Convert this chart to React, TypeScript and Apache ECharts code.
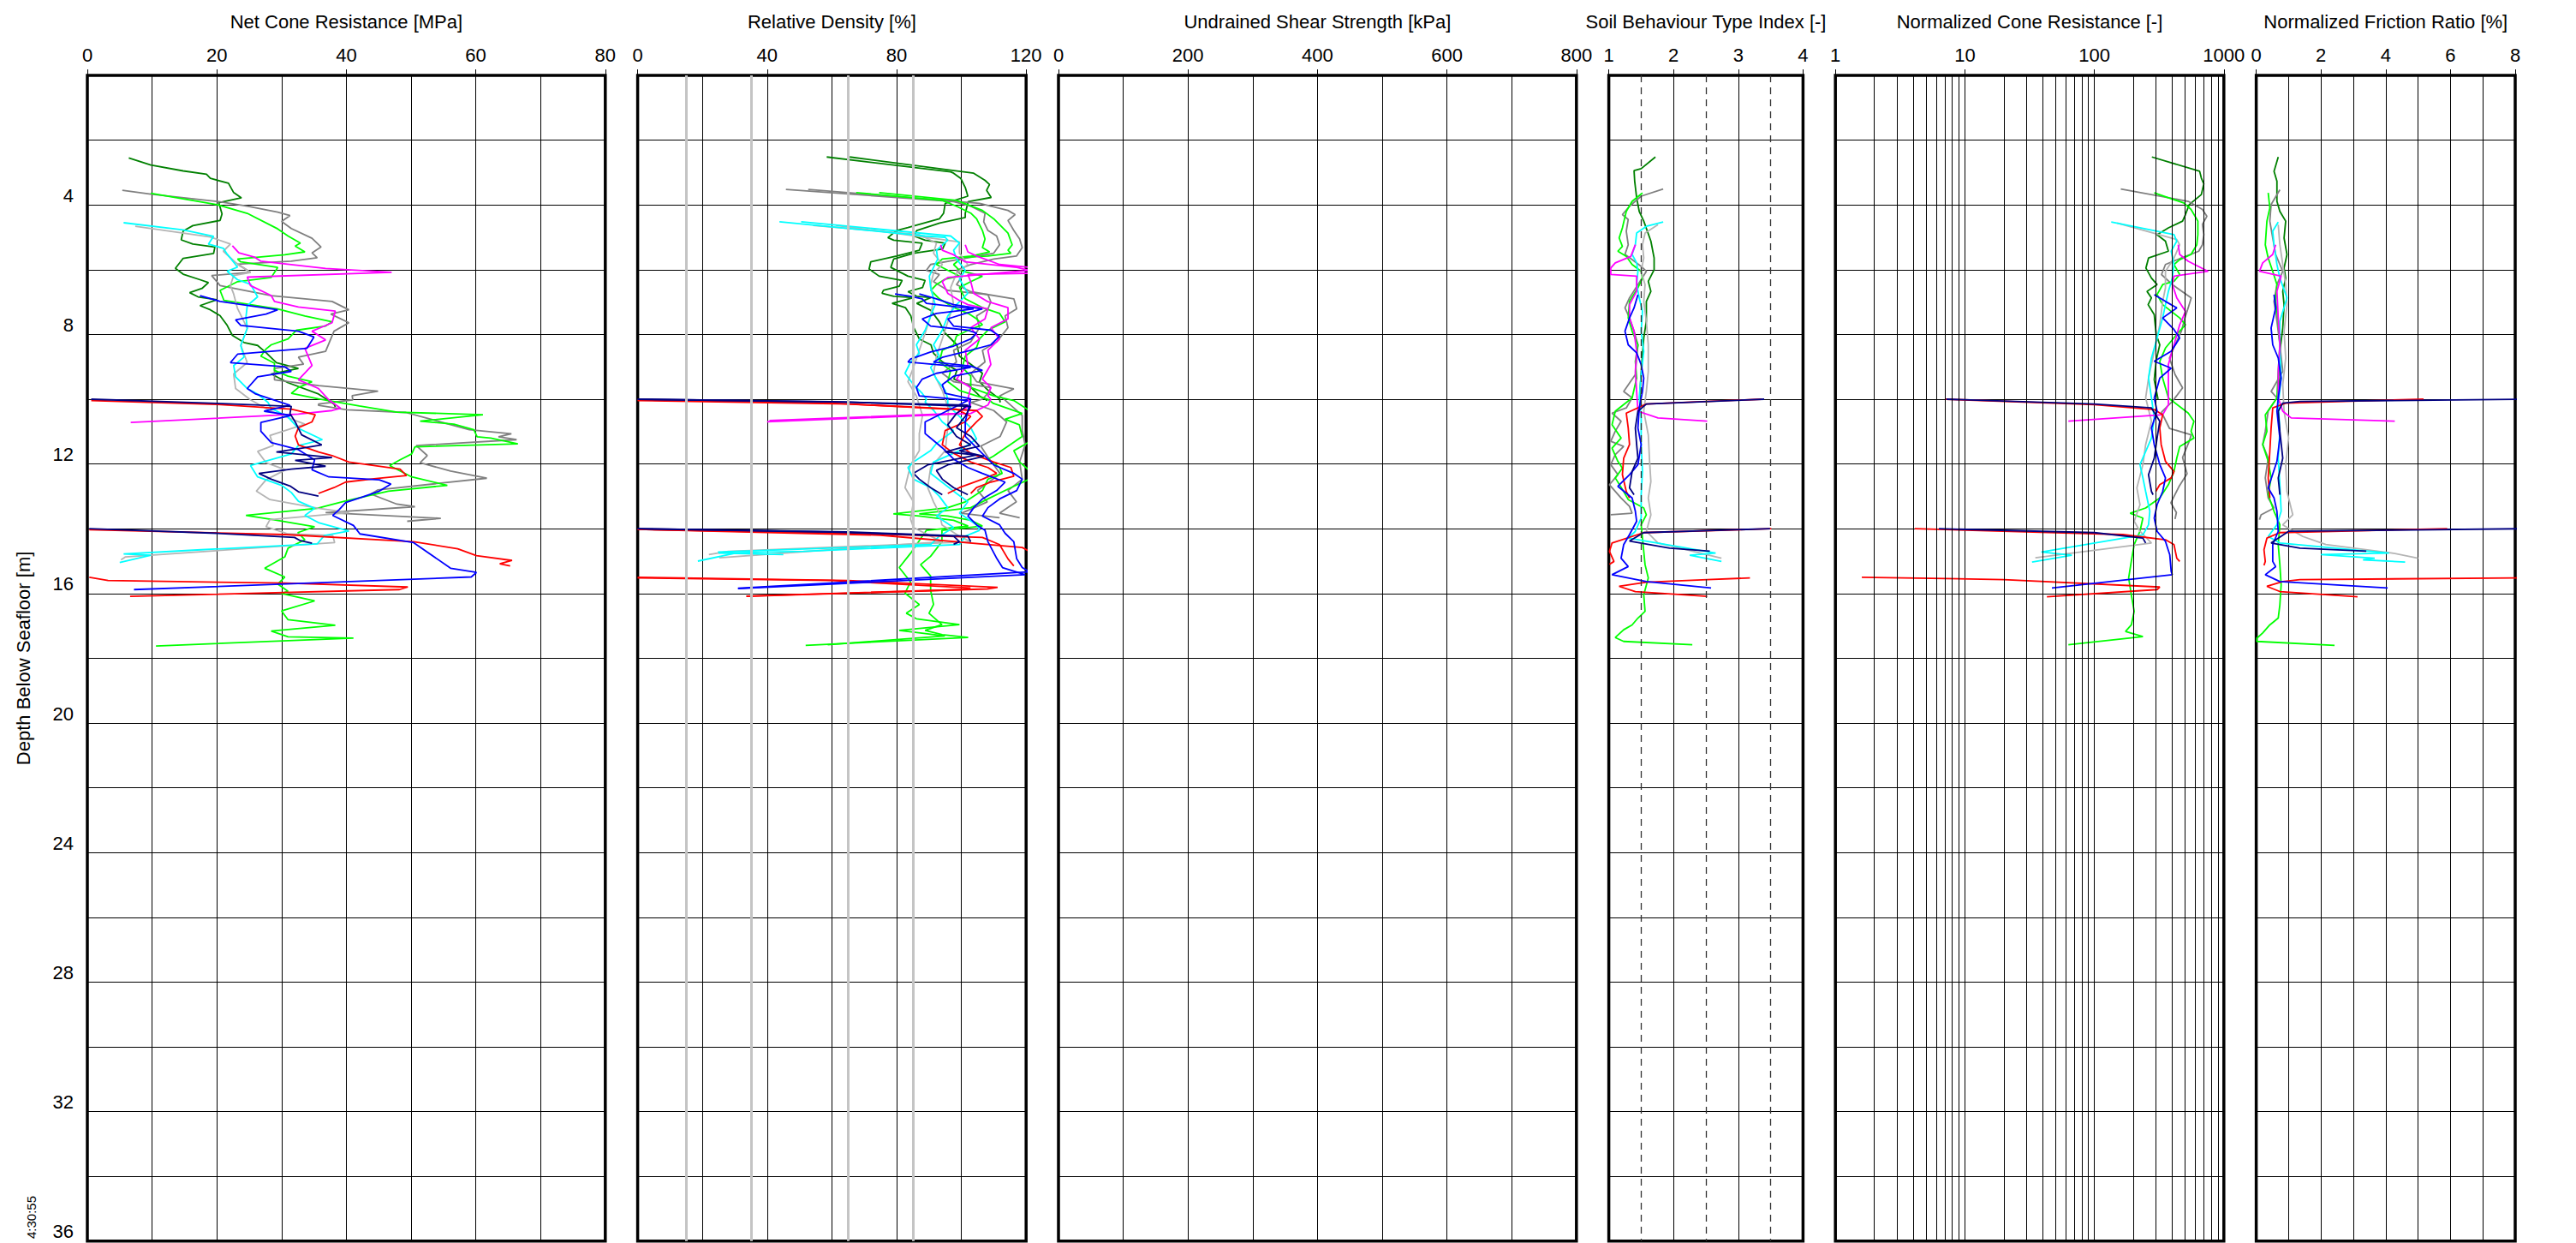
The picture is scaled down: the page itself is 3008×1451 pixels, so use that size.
import React, { useEffect, useRef } from "react";
import * as echarts from "echarts";

// ---------------- Net Cone Resistance [MPa] : [value, depth] ----------------
const qnDarkGreen = [[6.4,2.55],[9.8,2.77],[14.8,2.95],[18.4,3.05],[19,3.18],[21.8,3.33],[22.6,3.62],[23.8,3.78],[20.3,3.93],[20.8,4.28],[20.5,4.48],[16.3,4.64],[14.8,4.81],[14.5,5.08],[16.3,5.21],[19.7,5.3],[19.5,5.5],[14.8,5.65],[13.6,5.96],[14.8,6.14],[17.4,6.31],[18.7,6.4],[17.7,6.58],[15.8,6.71],[17.1,6.84],[20,6.93],[17.4,7.11],[19,7.24],[20.5,7.42],[21.6,7.72],[22.4,8.03],[24.2,8.25],[26.3,8.34],[27.6,8.56],[29.2,8.87],[32.6,9.05],[28.4,9.22],[31,9.49],[35.7,9.84],[38.1,10.15],[38.3,10.24]];
const qnGray = [[5.4,3.55],[9.8,3.67],[20,3.89],[24.7,4.04],[29.4,4.22],[31.3,4.33],[30,4.51],[31.5,4.73],[34.7,5.03],[36.1,5.3],[34.7,5.48],[35.5,5.63],[31.5,5.74],[23.2,5.83],[25.2,6.08],[19.2,6.18],[20.5,6.49],[28.4,6.8],[37.8,6.98],[40.4,7.24],[37.6,7.37],[40.4,7.64],[38.1,7.9],[36.8,8.52],[32.6,8.7],[33.4,8.92],[28.9,9.05],[28.9,9.4],[35.7,9.58],[44.9,9.75],[40.9,9.89],[41,10.02],[35.7,10.15],[35.7,10.19],[40.1,10.33],[49.2,10.41],[59,10.94],[65.5,11.07],[63.5,11.16],[66.3,11.25],[50.8,11.43],[52.5,11.74],[51.4,11.96],[56.1,12.22],[61.7,12.44],[44.9,12.8],[43.8,12.93],[47.8,13.24],[50.6,13.32],[36.8,13.5],[54.6,13.68],[49.4,13.77]];
const qnLime = [[9.8,3.64],[20,3.99],[24.7,4.26],[29.4,4.74],[31,4.96],[32.9,5.18],[32.1,5.27],[33.6,5.45],[30.5,5.54],[23.2,5.67],[23.7,5.76],[29.4,5.93],[28.4,6.24],[23.2,6.37],[20.5,6.64],[21.1,6.95],[25.2,7.08],[29.4,7.21],[33.6,7.43],[37.8,7.61],[36.8,7.74],[32.3,7.87],[31,8.14],[28.4,8.32],[27.6,8.45],[26.8,8.67],[28.9,8.89],[28.9,9.11],[31,9.29],[34.7,9.46],[32.6,9.64],[31.5,9.82],[35.7,9.99],[42,10.21],[47.8,10.4],[61.1,10.48],[51.4,10.68],[56.6,10.77],[59.7,10.94],[60.2,11.16],[62.3,11.2],[66.5,11.38],[50.6,11.47],[50.1,11.69],[48.3,11.87],[46.7,12.05],[50.1,12.4],[55.6,12.66],[46.5,12.84],[39.7,13.15],[35.5,13.37],[24.5,13.59],[28.7,13.72],[35.1,13.94],[32.5,14.12],[33.6,14.34],[31,14.6],[30.5,14.87],[27.4,15.22],[30.5,15.49],[29.4,15.71],[31,15.93],[30,16],[35.1,16.23],[30,16.54],[31,16.81],[38.3,16.98],[28.4,17.16],[31,17.34],[41.1,17.38],[10.6,17.62]];
const qnCyan = [[5.6,4.55],[14.8,4.77],[19.5,4.97],[18.7,5.21],[21,5.34],[21.6,5.52],[23.2,5.92],[21.6,6.05],[23.2,6.31],[25.2,6.45],[26.3,6.84],[24.7,7.11],[24.5,7.46],[24.7,7.81],[23.7,8.34],[24.2,8.7],[22.6,8.96],[22.9,9.31],[24.7,9.67],[26.3,9.84],[27.9,10.1],[28.4,10.28],[31,10.55],[32.6,10.9],[36.3,11.25],[32.6,11.43],[31.5,11.69],[25.2,12.05],[26.3,12.4],[30,12.66],[31.5,12.88],[32.6,13.15],[35.1,13.37],[33.6,13.59],[35.7,13.81],[40.4,14.07],[36.6,14.21],[35.5,14.47],[17.6,14.65],[5.6,14.78],[9.8,14.82],[5,15.04]];
const qnSilver = [[7.4,4.66],[19,4.99],[22.1,5.21],[21,5.43],[22.9,5.78],[25.2,6.09],[22.6,6.18],[22.1,6.49],[22.6,6.75],[23.2,7.2],[24.7,7.81],[23.7,8.34],[24.7,8.87],[22.6,9.22],[22.9,9.67],[25.2,10.02],[28.4,10.37],[33.6,10.77],[28.2,11.12],[28.7,11.43],[26.3,11.61],[27.6,11.96],[30.6,12.18],[27.6,12.49],[26.1,12.84],[28.2,13.1],[35.7,13.37],[40.4,13.5],[28.2,13.72],[27.6,13.94],[31,14.16],[37.9,14.21],[38.2,14.43],[28.4,14.56],[5.9,14.87],[5.2,14.96]];
const qnMagenta = [[22.4,5.26],[23.4,5.48],[25.8,5.61],[26.8,5.74],[36.8,5.96],[47,6.08],[24.7,6.23],[25.2,6.49],[28.4,6.8],[28.9,6.98],[32.6,7.15],[38.3,7.28],[37.8,7.64],[34.7,7.9],[36.8,8.17],[33.6,8.43],[34.7,8.96],[32.6,9.4],[35.7,9.67],[37.3,10.02],[39.1,10.28],[37.8,10.35],[32.6,10.46],[6.7,10.72]];
const qnBlue = [[17.4,6.8],[20.5,6.98],[29.4,7.24],[27.6,7.37],[22.9,7.55],[23.7,7.72],[32.6,7.9],[35,8.08],[33.9,8.43],[23.2,8.61],[22.1,8.87],[30.5,9],[31.5,9.14],[26.3,9.31],[24.7,9.67],[26,9.84],[31.3,10.19],[27.3,10.37],[31.5,10.5],[26.8,10.72],[26.8,10.99],[28.4,11.34],[32.6,11.56],[35.1,11.87],[34.7,12.18],[37.3,12.4],[45.1,12.49],[46.9,12.62],[45.1,12.84],[42.5,13.02],[39.9,13.19],[38.9,13.41],[37.9,13.59],[41.1,13.9],[42.1,14.16],[50.4,14.43],[56.1,15.22],[60.1,15.35],[59.3,15.49],[7.2,15.88]];
const qnNavy1 = [[0.6,10],[20,10.13],[31.5,10.22],[31.3,10.44],[32.1,10.7],[33.1,11.1],[36.2,11.41],[33.6,11.5],[29.2,11.63],[37.8,11.8],[32.1,11.89],[36.8,12.07],[31.5,12.16],[26.5,12.29],[28.4,12.47],[31.3,12.68],[32.6,12.86],[35.7,12.99]];
const qnNavy2 = [[0.3,14],[20,14.14],[32,14.27],[32.8,14.36],[34.7,14.45]];
const qnRed1 = [[0.6,10.04],[20,10.16],[31.5,10.31],[35.2,10.48],[34.7,10.7],[32.6,10.88],[32.1,11.14],[32.6,11.41],[35.7,11.63],[37.8,11.74],[40.4,11.94],[48.3,12.16],[49.3,12.36],[44.6,12.45],[39.9,12.56],[38.1,12.73],[35.7,12.91]];
const qnRed2 = [[0.3,14.03],[30.5,14.18],[50.4,14.4],[57.2,14.62],[60.1,14.83],[65.6,14.98],[63.7,15.08],[65.3,15.15]];
const qnRed3 = [[0.3,15.5],[3.2,15.6],[30.5,15.68],[49.5,15.8],[48.2,15.88],[6.6,16.09]];

// ---------------- Relative Density [%] (two correlations per CPT) ----------------
const drDarkGreenA = [[58.4,2.52],[96.7,2.98],[97.6,3.02],[99.8,3.18],[101.2,3.46],[102,3.73],[95,3.95],[94.5,4.26],[93.2,4.43],[83.5,4.7],[80,4.79],[77.3,5.01],[79.1,5.09],[87.9,5.18],[87,5.4],[80,5.58],[72,5.76],[71.5,5.98],[74.6,6.2],[81.7,6.33],[80.8,6.51],[75.9,6.64],[75.5,6.73],[79.1,6.82],[85.3,6.86],[78.6,7.04],[82.7,7.17],[84.4,7.43],[85.3,7.79],[87,8.14],[90.6,8.32],[91.4,8.58],[94.2,8.85],[98.6,9.11],[97.7,9.38],[102.1,9.55],[105.6,9.9],[107.4,10],[108,10.05]];
const drDarkGreenB = [[65.5,2.52],[103.8,3.02],[107.3,3.24],[108.7,3.37],[107.8,3.55],[109.2,3.77],[102.1,3.9],[101.2,4.26],[101.2,4.39],[93.3,4.56],[86.2,4.79],[85.3,4.96],[88.8,5.09],[95,5.18],[94.2,5.36],[85.3,5.49],[79.1,5.67],[78.2,5.93],[83.5,6.2],[88.8,6.33],[88,6.55],[83.5,6.68],[86.2,6.82],[90.6,6.86],[86.2,7.04],[90.6,7.26],[93.2,7.61],[95,7.96],[98.6,8.32],[99.4,8.67],[103,8.93],[106.5,9.2],[105.6,9.46],[108.3,9.73],[111.8,9.99],[112,10.1]];
const drGrayA = [[45.8,3.52],[97.6,3.9],[102.9,4.04],[107.3,4.26],[106.9,4.52],[108.2,4.79],[110.9,4.96],[111.8,5.23],[110,5.49],[102.9,5.62],[97.6,5.71],[90.5,5.84],[89.2,6.02],[93.2,6.15],[91.4,6.37],[95.8,6.64],[108.2,6.77],[109.1,6.99],[108.2,7.21],[104.7,7.43],[105.6,7.79],[102.9,8.23],[97.6,8.49],[98.5,8.85],[94.1,9.2],[97.6,9.46],[109.1,9.64],[108.2,9.82],[106.5,10],[102.9,10.1],[110,10.35],[114,10.7],[112,11.15],[106,11.45],[108,11.76],[110,12.03],[112,12.3],[105,12.82],[108,13.17],[104,13.35],[100,13.52],[111.8,13.66]];
const drGrayB = [[52.7,3.52],[105.6,3.95],[114.4,4.17],[116.6,4.3],[114.4,4.48],[116.2,4.79],[118,5.05],[118.8,5.32],[117,5.58],[110,5.67],[102.9,5.84],[98.5,6.02],[100.3,6.2],[98.5,6.46],[102.9,6.68],[116.2,6.9],[117.1,7.21],[113.5,7.43],[114.4,7.79],[110.9,8.23],[106.5,8.49],[107.3,8.85],[102.9,9.2],[104.7,9.46],[116.2,9.68],[111.8,9.9],[113.5,10.03],[118.8,10.5],[118.8,10.97],[119.7,11.41],[118,11.94],[118.8,12.47],[114.4,12.82],[117,13.17],[111.8,13.52],[118,13.66]];
const drLimeA = [[67.5,3.62],[94.1,3.86],[98.5,4.04],[103,4.26],[104.7,4.43],[106.5,4.79],[107.3,5.05],[106.5,5.32],[108.7,5.45],[103,5.58],[94.1,5.67],[92.3,5.84],[95.8,6.02],[99.4,6.2],[95,6.29],[92.3,6.46],[90.6,6.64],[93.2,6.9],[97.6,7.17],[102.1,7.35],[104.7,7.52],[106.5,7.7],[102.1,7.87],[98.5,8.05],[97.6,8.32],[94.1,8.49],[93.2,8.85],[96.7,9.11],[95.8,9.46],[99.4,9.73],[104.7,9.9],[108.2,10],[109.9,10.13],[118.8,10.44],[113.5,10.62],[117.9,10.79],[118.8,11.15],[109.9,11.76],[108.2,11.85],[111.8,12.11],[112.6,12.29],[108.2,12.47],[106.5,12.82],[101.2,13.17],[95.8,13.35],[79,13.54],[87,13.61],[97.6,13.74],[102.1,13.92],[89.2,14.05],[84.3,14.76],[80.8,15.2],[84.3,15.64],[82.6,15.99],[87,16.34],[83,16.61],[86.1,16.78],[99.4,16.96],[80.8,17.14],[94.9,17.31],[58.7,17.58]];
const drLimeB = [[74.6,3.62],[98.5,3.86],[106.5,4.17],[110,4.43],[112.7,4.7],[114.4,4.87],[115.7,5.23],[114.4,5.4],[115.3,5.49],[108.2,5.58],[100.3,5.62],[97.6,5.84],[99.4,6.02],[106.5,6.2],[102.9,6.37],[99.4,6.55],[101.2,6.9],[106.5,7.17],[111.8,7.35],[113.5,7.61],[108.2,7.87],[105.6,8.14],[104.7,8.4],[101.2,8.67],[100.3,9.02],[102.9,9.29],[102.9,9.64],[110,9.9],[116.2,10.04],[121,10.35],[121,11.32],[116.2,11.59],[118,11.94],[121,12.2],[121,12.47],[115.3,12.73],[108.2,13.08],[102.9,13.35],[87,13.54],[95.8,13.61],[102.9,13.74],[106.5,13.92],[94,14.05],[94,14.4],[90.5,14.85],[87.4,15.11],[90.5,15.46],[90.5,15.9],[91.4,16.34],[90,16.61],[94,16.96],[88.8,17.14],[94.1,17.27],[102.1,17.36],[51.9,17.6]];
const drCyanA = [[43.8,4.52],[88.8,4.96],[95,5],[95.8,5.09],[92.3,5.4],[92.7,5.67],[91.4,5.93],[90.1,6.2],[90.5,6.55],[91.9,7.08],[90.5,7.43],[88.8,7.87],[86.1,8.32],[87,8.58],[84.3,8.85],[82.6,9.2],[85.2,9.55],[87.9,9.82],[89.2,10],[88.8,10.09],[91.5,10.35],[94.1,10.7],[97.6,10.97],[92.3,11.37],[90.5,11.59],[85.2,11.94],[83.5,12.11],[85.2,12.47],[90.5,12.73],[93.2,13],[95.8,13.35],[92.3,13.61],[97.6,13.96],[93.2,14.23],[90.5,14.49],[24.8,14.72],[30,14.76],[18.6,15]];
const drCyanB = [[50.5,4.52],[96.7,4.96],[99.4,5.18],[97.6,5.4],[98.5,5.67],[101.2,6.02],[99.4,6.29],[102,6.73],[98.5,7.08],[95.8,7.43],[94.1,7.87],[91.4,8.32],[93.2,8.67],[90.5,9.02],[92.3,9.38],[95,9.73],[95.8,10],[95.8,10.18],[99.4,10.53],[102.9,10.88],[104.7,11.23],[99.4,11.59],[91.4,11.94],[90.5,12.29],[95,12.64],[98.5,12.91],[102,13.17],[99.4,13.52],[104.7,13.88],[105.6,14.05],[101.2,14.23],[99.4,14.49],[51.2,14.7],[25,14.75],[45,14.8]];
const drSilverA = [[54.2,4.63],[87,4.92],[92.3,5.18],[91.4,5.49],[94.1,5.84],[91.4,6.11],[90.5,6.46],[91.4,6.9],[90.5,7.43],[88.8,7.96],[87,8.49],[85.2,9.02],[83.5,9.46],[86.1,9.9],[88,10.5],[87,11.06],[87,11.59],[84.3,12.03],[82.6,12.73],[85.2,13.17],[84.3,13.7],[85.2,13.96],[90.5,14.23],[94,14.4],[25.2,14.9]];
const drSilverB = [[61.3,4.63],[99.4,5.14],[99.4,5.49],[102,5.84],[98.5,6.11],[96.7,6.55],[97.6,7.08],[95.8,7.61],[94.1,8.14],[92.3,8.67],[91.4,9.2],[94.1,9.73],[96,10.3],[95.8,10.88],[95,11.59],[90.5,12.11],[89.6,12.73],[91.4,13.17],[93.2,13.52],[94,13.88],[99.4,14.23],[102.9,14.4],[28,14.7],[22,14.8]];
const drMagentaA = [[93.6,5.23],[94.1,5.4],[97.6,5.54],[101.2,5.76],[117.1,5.93],[121,6.02],[95.8,6.24],[94.1,6.37],[95.8,6.73],[99.4,6.95],[102,7.08],[108.2,7.21],[107.3,7.52],[102.9,7.79],[105.6,8.14],[101.2,8.49],[102,8.93],[98.5,9.38],[102.9,9.64],[102,10],[102.9,10.18],[98.5,10.44],[40.7,10.66]];
const drMagentaB = [[101.2,5.23],[102,5.45],[104.7,5.58],[111.8,5.84],[121,5.93],[121,6.11],[102,6.15],[102.9,6.37],[103.8,6.73],[108.2,6.99],[114.4,7.17],[114.4,7.52],[109.1,7.79],[111.8,8.14],[108.2,8.49],[109.1,8.93],[106.5,9.38],[109.1,9.64],[108.2,9.9],[109.1,10],[108.2,10.18],[102.9,10.44],[40,10.7]];
const drBlueA = [[79.5,6.75],[84.3,6.82],[87.9,6.9],[89.2,7.04],[103.8,7.21],[92.3,7.35],[87.9,7.52],[90.5,7.74],[102,7.87],[104.7,7.96],[102.9,8.14],[97.6,8.36],[90.5,8.54],[84.3,8.76],[83.5,8.85],[92.3,8.93],[102.9,9.02],[92.3,9.2],[87.9,9.38],[86.1,9.64],[87,9.9],[102,10.04],[95.8,10.35],[88.8,10.7],[88.8,11.06],[94.1,11.5],[97.6,11.85],[102,12.11],[106.5,12.29],[113.5,12.56],[110.9,12.82],[106.5,13.08],[103.8,13.35],[102,13.61],[104.7,13.88],[107.3,14.05],[108.2,14.4],[111,14.93],[112.7,15.2],[119.7,15.42],[31,15.85]];
const drBlueB = [[87,6.75],[92.3,6.9],[97.6,7.08],[106.5,7.21],[101.2,7.35],[95.8,7.52],[97.6,7.74],[109.1,7.87],[111.8,8.05],[109.1,8.32],[102.9,8.49],[94.1,8.71],[91.4,8.85],[102.9,8.98],[106.5,9.11],[97.6,9.29],[94.1,9.55],[95,9.82],[102.9,9.99],[101.2,10.7],[101.2,11.15],[105.6,11.59],[110,12.03],[116.2,12.29],[118.8,12.47],[117.1,12.82],[111.8,13.08],[108.2,13.35],[106.5,13.61],[111.8,13.88],[113.5,14.14],[116.2,14.4],[117.1,14.93],[118.8,15.2],[121,15.33],[31,15.84]];
const drNavyA1 = [[0,10],[60,10.08],[102,10.18],[98.5,10.44],[95.8,10.79],[98.5,11.15],[102.9,11.41],[95,11.63],[104.7,11.72],[89.6,12.03],[85.2,12.29],[87,12.47],[90.5,12.73],[94.1,12.95]];
const drNavyA2 = [[0,14],[60,14.1],[97.6,14.23],[99.4,14.4],[97.6,14.48]];
const drNavyB1 = [[0,10],[65,10.09],[102.9,10.22],[101.2,10.53],[98.5,10.88],[102.9,11.15],[105.6,11.45],[99.4,11.59],[107,11.76],[95.8,12.03],[92.3,12.2],[94.1,12.47],[97.6,12.73],[102,12.95]];
const drNavyB2 = [[0,14],[65,14.1],[102,14.23],[102.9,14.4]];
const drRedA1 = [[0,10.02],[60,10.12],[98.5,10.31],[102.9,10.53],[101.2,10.7],[95,10.97],[94.1,11.41],[97.6,11.67],[102.9,11.94],[108.2,12.11],[110.9,12.29],[106.5,12.47],[99.4,12.73],[95.8,12.91]];
const drRedA2 = [[0,14.02],[70,14.15],[106.5,14.27],[111.8,14.49],[114.4,14.93],[116.2,15.15]];
const drRedA3 = [[0,15.52],[60,15.6],[102.8,15.83],[100,15.88],[33.6,16.08]];
const drRedB1 = [[0,10.04],[65,10.15],[104.7,10.35],[106.5,10.53],[104.7,10.7],[101.2,11.06],[99.4,11.41],[102.9,11.67],[110,11.94],[115.3,12.11],[116.2,12.38],[109.1,12.56],[104.7,12.73],[102.9,12.91]];
const drRedB2 = [[0,14.02],[75,14.2],[118.8,14.58],[121,14.7],[121,15.1]];
const drRedB3 = [[0,15.5],[65,15.6],[111.2,15.81],[108,15.86],[33.6,16.09]];

// ---------------- Soil Behaviour Type Index [-] ----------------
const icDarkGreen = [[1.72,2.52],[1.5,2.88],[1.39,2.94],[1.4,3.27],[1.43,3.78],[1.47,4.2],[1.54,4.5],[1.65,5.12],[1.7,5.64],[1.7,6],[1.61,6.36],[1.65,6.67],[1.58,6.98],[1.58,7.59],[1.54,8.11],[1.52,8.6],[1.5,9.2],[1.48,9.8],[1.5,10.2]];
const icGray = [[1.84,3.51],[1.5,3.73],[1.32,4.04],[1.21,4.3],[1.3,4.45],[1.27,4.81],[1.3,5.23],[1.25,5.53],[1.36,5.69],[1.5,5.9],[1.58,6.05],[1.45,6.46],[1.32,6.87],[1.25,7.18],[1.32,7.49],[1.39,7.9],[1.45,8.32],[1.43,8.73],[1.41,9.24],[1.23,9.76],[1.36,9.96],[1.27,10.27],[1.05,10.43],[1.19,10.68],[1.1,10.99],[1.03,11.3],[1.23,11.46],[1.1,11.71],[1.03,12.02],[1.14,12.33],[1.01,12.64],[1.19,13.05],[1.32,13.31],[1.36,13.52],[1.03,13.57]];
const icLime = [[1.52,3.63],[1.36,3.89],[1.27,4.2],[1.21,4.71],[1.16,5.02],[1.21,5.28],[1.14,5.43],[1.27,5.59],[1.36,5.84],[1.5,6.05],[1.52,6.26],[1.45,6.56],[1.32,6.98],[1.3,7.49],[1.36,7.9],[1.45,8.32],[1.41,8.83],[1.43,9.35],[1.36,9.96],[1.1,10.37],[1.05,10.79],[1.19,11.2],[1.05,11.51],[1.14,11.92],[1.21,12.13],[1.1,12.43],[1.23,12.85],[1.3,13.1],[1.54,13.36],[1.58,13.57],[1.5,13.88],[1.52,14.29],[1.54,14.7],[1.56,15.11],[1.61,15.52],[1.54,16.04],[1.56,16.55],[1.45,16.76],[1.36,16.97],[1.23,17.12],[1.1,17.36],[1.23,17.48],[2.29,17.58]];
const icCyan = [[1.84,4.53],[1.58,4.66],[1.43,4.87],[1.41,5.23],[1.36,5.53],[1.43,5.79],[1.45,6.05],[1.43,6.46],[1.47,6.87],[1.52,7.29],[1.5,7.9],[1.54,8.52],[1.5,9.24],[1.47,9.96],[1.5,10.58],[1.5,11.4],[1.52,12.23],[1.5,12.95],[1.5,13.67],[1.41,14.08],[1.3,14.29],[2.21,14.6],[2.65,14.75],[2.25,14.82],[2.74,15.01]];
const icSilver = [[1.76,4.61],[1.56,4.87],[1.52,5.23],[1.54,5.64],[1.5,6.05],[1.56,6.46],[1.54,6.98],[1.58,7.59],[1.61,8.32],[1.61,9.14],[1.58,9.76],[1.54,10.37],[1.61,11.1],[1.63,11.92],[1.65,12.54],[1.61,13.05],[1.65,13.57],[1.58,14.08],[1.76,14.44],[2.21,14.65],[2.74,14.91]];
const icMagenta = [[1.41,5.23],[1.34,5.59],[1.1,5.79],[1.03,5.95],[1.03,6.15],[1.43,6.2],[1.43,6.67],[1.32,7.08],[1.32,7.49],[1.39,7.9],[1.43,8.52],[1.41,9.14],[1.43,9.76],[1.45,10.37],[1.76,10.58],[2.52,10.68]];
const icBlue = [[1.45,6.77],[1.39,7.18],[1.32,7.49],[1.25,7.9],[1.3,8.32],[1.43,8.57],[1.5,8.93],[1.54,9.35],[1.52,9.76],[1.47,10.27],[1.45,10.89],[1.5,11.4],[1.45,12.02],[1.32,12.33],[1.14,12.69],[1.36,13.05],[1.41,13.46],[1.43,13.77],[1.32,14.18],[1.23,14.49],[1.19,14.91],[1.3,15.17],[1.05,15.42],[1.58,15.63],[2.58,15.83]];
const icNavy1 = [[3.4,10],[1.58,10.15],[1.45,10.37],[1.41,10.89],[1.43,11.4],[1.45,11.82],[1.36,12.23],[1.32,12.74],[1.39,12.95]];
const icNavy2 = [[3.49,14],[1.54,14.12],[1.32,14.38],[1.94,14.6],[2.56,14.69]];
const icRed1 = [[3.36,10],[1.58,10.15],[1.27,10.43],[1.3,10.89],[1.32,11.4],[1.23,11.82],[1.21,12.33],[1.27,12.85],[1.32,13.05]];
const icRed2 = [[3.51,14],[1.54,14.12],[1.05,14.44],[1.01,14.7],[1.08,15.01],[1.01,15.1]];
const icRed3 = [[3.18,15.52],[2.52,15.57],[1.58,15.65],[1.16,15.78],[1.41,15.94],[2.52,16.09]];

// ---------------- Normalized Cone Resistance [-] ----------------
const qtDarkGreen = [[278,2.52],[650,2.96],[670,3.17],[700,3.35],[670,3.68],[540,3.99],[505,4.3],[480,4.5],[373,4.71],[305,4.92],[354,5.12],[373,5.43],[262,5.64],[250,5.95],[276,6.26],[305,6.46],[255,6.67],[276,6.87],[260,7.08],[290,7.39],[300,8],[320,8.32],[300,8.8],[290,9.4],[310,10]];
const qtGray = [[160,3.51],[531,3.89],[683,4.14],[740,4.35],[683,4.6],[700,4.92],[683,5.23],[640,5.43],[470,5.64],[354,5.84],[330,6.15],[400,6.46],[560,6.87],[530,7.18],[500,7.49],[470,7.9],[420,8.32],[380,8.73],[420,9.24],[480,9.65],[400,10.07],[330,10.4],[380,10.9],[560,11.1],[540,11.3],[480,11.8],[520,12.3],[450,12.7],[390,13.2],[430,13.5],[420,13.7]];
const qtLime = [[290,3.63],[490,3.94],[558,4.14],[630,4.5],[630,4.92],[618,5.23],[558,5.53],[456,5.69],[412,5.84],[456,6.15],[412,6.36],[337,6.46],[305,6.77],[337,7.08],[456,7.49],[505,7.7],[433,8],[354,8.42],[320,8.83],[337,9.35],[373,9.96],[531,10.43],[587,10.68],[558,10.99],[587,11.2],[456,11.46],[433,11.82],[412,12.23],[373,12.64],[320,13.05],[249,13.36],[189,13.52],[237,13.67],[225,14.08],[203,14.49],[193,15],[184,15.52],[193,16.04],[203,16.55],[193,16.97],[174,17.17],[237,17.33],[63,17.58]];
const qtCyan = [[135,4.53],[412,4.92],[433,5.12],[392,5.43],[412,5.84],[400,6.26],[373,6.67],[354,7.08],[337,7.49],[305,8.11],[276,8.73],[262,9.35],[276,9.96],[290,10.58],[276,11.2],[225,12.02],[237,12.43],[249,12.85],[268,13.46],[262,13.88],[237,14.19],[39,14.72],[67,14.82],[33,15.03]];
const qtSilver = [[150,4.56],[433,5.07],[456,5.23],[412,5.64],[354,6.05],[354,6.56],[337,6.98],[320,7.7],[290,8.52],[262,9.35],[249,9.96],[276,10.68],[249,11.4],[237,12.02],[213,12.74],[225,13.26],[203,13.77],[225,14.08],[276,14.44],[35,14.9]];
const qtMagenta = [[444,5.23],[456,5.53],[531,5.74],[756,6.05],[412,6.2],[400,6.46],[433,6.87],[505,7.29],[456,7.7],[412,8.32],[373,8.93],[373,9.55],[373,10.17],[337,10.48],[63,10.68]];
const qtBlue = [[290,6.77],[354,6.98],[433,7.18],[337,7.49],[412,7.85],[456,8.11],[392,8.52],[290,8.83],[392,9.04],[320,9.35],[290,9.96],[305,10.37],[276,10.89],[290,11.4],[320,12.02],[354,12.43],[337,12.85],[305,13.26],[290,13.67],[305,14.08],[354,14.39],[382,14.8],[392,15.32],[400,15.42],[47,15.83]];
const qtNavy1 = [[7.2,10],[100,10.15],[276,10.27],[320,10.68],[305,11.2],[290,11.82],[262,12.33],[276,12.85],[284,12.95]];
const qtNavy2 = [[6.3,14],[100,14.12],[237,14.29],[249,14.44]];
const qtRed1 = [[7.1,10],[100,10.17],[290,10.32],[337,10.48],[320,10.89],[328,11.4],[354,11.92],[412,12.23],[392,12.43],[320,12.64],[298,12.85]];
const qtRed2 = [[4.1,14],[166,14.18],[354,14.34],[412,14.49],[433,14.91],[456,15.01]];
const qtRed3 = [[1.6,15.5],[20,15.57],[320,15.8],[305,15.88],[43,16.1]];

// ---------------- Normalized Friction Ratio [%] ----------------
const frDarkGreen = [[0.68,2.52],[0.55,2.96],[0.64,3.27],[0.64,3.89],[0.73,4.2],[0.91,4.5],[0.86,5.02],[0.95,5.53],[0.86,5.95],[0.91,6.26],[0.82,6.67],[0.86,7.08],[0.82,7.8],[0.73,8.52],[0.73,9.35],[0.68,9.96]];
const frGray = [[0.73,3.53],[0.46,3.99],[0.42,4.5],[0.51,5.02],[0.6,5.53],[0.73,5.84],[0.82,6.05],[0.64,6.46],[0.55,6.98],[0.64,7.59],[0.73,8.32],[0.82,9.14],[0.46,9.76],[0.64,9.96],[0.37,10.37],[0.28,10.99],[0.2,11.4],[0.37,11.82],[0.28,12.43],[0.37,13.05],[0.55,13.36],[0.15,13.57],[0.1,13.72]];
const frLime = [[0.37,3.63],[0.42,4.09],[0.33,4.5],[0.28,5.23],[0.37,5.64],[0.51,6.05],[0.64,6.46],[0.6,6.98],[0.68,7.59],[0.73,8.32],[0.68,9.14],[0.64,9.96],[0.28,10.48],[0.33,10.99],[0.2,11.4],[0.37,11.92],[0.46,12.43],[0.37,12.95],[0.55,13.46],[0.73,13.88],[0.68,14.49],[0.73,15.11],[0.77,15.73],[0.73,16.35],[0.68,16.76],[0.42,16.97],[0.2,17.22],[0.02,17.38],[0.02,17.48],[2.42,17.6]];
const frCyan = [[0.68,4.53],[0.51,4.81],[0.55,5.23],[0.64,5.84],[0.73,6.26],[0.95,6.87],[0.73,7.59],[0.73,8.52],[0.77,9.35],[0.68,10.17],[0.73,10.99],[0.68,11.82],[0.73,12.64],[0.77,13.46],[0.64,13.88],[0.37,14.24],[0.73,14.44],[4.1,14.75],[2,14.8],[3.66,14.91],[3.3,14.96],[4.6,15.03]];
const frSilver = [[0.68,4.61],[0.73,5.23],[0.82,5.84],[0.91,6.46],[0.95,7.08],[0.86,7.9],[0.91,8.73],[0.82,9.55],[0.86,10.37],[1,11.2],[0.91,12.02],[0.95,12.85],[1.13,13.57],[0.82,13.88],[1.44,14.24],[2.15,14.49],[4.2,14.75],[5,14.91]];
const frMagenta = [[0.6,5.23],[0.51,5.53],[0.2,5.79],[0.1,6.05],[0.77,6.2],[0.64,6.67],[0.68,7.49],[0.73,8.32],[0.68,9.14],[0.68,9.96],[0.82,10.37],[1.08,10.58],[4.28,10.68]];
const frBlue = [[0.55,6.77],[0.6,7.18],[0.46,7.8],[0.51,8.32],[0.68,8.73],[0.77,9.35],[0.68,9.96],[0.64,10.37],[0.73,11.2],[0.64,11.92],[0.37,12.74],[0.55,13.05],[0.64,13.46],[0.68,14.08],[0.51,14.49],[0.51,15.01],[0.6,15.17],[0.28,15.42],[0.73,15.63],[4.06,15.83]];
const frNavy1 = [[8.2,10],[1.35,10.07],[0.82,10.12],[0.68,10.37],[0.73,10.99],[0.82,11.82],[0.68,12.43],[0.73,12.95]];
const frNavy2 = [[8.2,14],[1,14.08],[0.46,14.44],[1.35,14.6],[3.4,14.69]];
const frRed1 = [[5.17,10],[0.91,10.12],[0.51,10.27],[0.46,10.89],[0.42,11.61],[0.37,12.43],[0.42,13.05]];
const frRed2 = [[5.9,14],[0.73,14.12],[0.33,14.29],[0.24,14.65],[0.28,15.01],[0.24,15.13]];
const frRed3 = [[8.2,15.52],[1.35,15.57],[0.82,15.63],[0.33,15.78],[0.73,15.94],[3.13,16.1]];

// ---------------- reference lines ----------------
const densityClassLines = [15, 35, 65, 85];
const icZoneLines = [1.5, 2.5, 3.5];
const logMinorLines = [2, 3, 4, 5, 6, 7, 8, 9, 20, 30, 40, 50, 60, 70, 80, 90, 200, 300, 400, 500, 600, 700, 800, 900];

const COL = {
  darkGreen: "#008000",
  gray: "#808080",
  lime: "#00ff00",
  silver: "#b4b4b4",
  cyan: "#00ffff",
  magenta: "#ff00ff",
  red: "#ff0000",
  blue: "#0000ff",
  navy: "#000080",
};

type Trace = [string, number[][]];

const panelTraces: Trace[][] = [
  [
    [COL.darkGreen, qnDarkGreen], [COL.gray, qnGray], [COL.lime, qnLime], [COL.silver, qnSilver],
    [COL.cyan, qnCyan], [COL.magenta, qnMagenta], [COL.red, qnRed1], [COL.red, qnRed2], [COL.red, qnRed3],
    [COL.blue, qnBlue], [COL.navy, qnNavy1], [COL.navy, qnNavy2],
  ],
  [
    [COL.darkGreen, drDarkGreenA], [COL.darkGreen, drDarkGreenB], [COL.gray, drGrayA], [COL.gray, drGrayB],
    [COL.lime, drLimeA], [COL.lime, drLimeB], [COL.silver, drSilverA], [COL.silver, drSilverB],
    [COL.cyan, drCyanA], [COL.cyan, drCyanB], [COL.magenta, drMagentaA], [COL.magenta, drMagentaB],
    [COL.red, drRedA1], [COL.red, drRedA2], [COL.red, drRedA3], [COL.red, drRedB1], [COL.red, drRedB2], [COL.red, drRedB3],
    [COL.blue, drBlueA], [COL.blue, drBlueB],
    [COL.navy, drNavyA1], [COL.navy, drNavyA2], [COL.navy, drNavyB1], [COL.navy, drNavyB2],
  ],
  [],
  [
    [COL.darkGreen, icDarkGreen], [COL.gray, icGray], [COL.lime, icLime], [COL.silver, icSilver],
    [COL.cyan, icCyan], [COL.magenta, icMagenta], [COL.red, icRed1], [COL.red, icRed2], [COL.red, icRed3],
    [COL.blue, icBlue], [COL.navy, icNavy1], [COL.navy, icNavy2],
  ],
  [
    [COL.darkGreen, qtDarkGreen], [COL.gray, qtGray], [COL.lime, qtLime], [COL.silver, qtSilver],
    [COL.cyan, qtCyan], [COL.magenta, qtMagenta], [COL.red, qtRed1], [COL.red, qtRed2], [COL.red, qtRed3],
    [COL.blue, qtBlue], [COL.navy, qtNavy1], [COL.navy, qtNavy2],
  ],
  [
    [COL.darkGreen, frDarkGreen], [COL.gray, frGray], [COL.lime, frLime], [COL.silver, frSilver],
    [COL.cyan, frCyan], [COL.magenta, frMagenta], [COL.red, frRed1], [COL.red, frRed2], [COL.red, frRed3],
    [COL.blue, frBlue], [COL.navy, frNavy1], [COL.navy, frNavy2],
  ],
];

const FONT = "'Liberation Sans', Arial, Helvetica, sans-serif";
const U = 75.6;
const TOP = 88;
const H = 18 * U;
const LEFT0 = 102;

const panels = [
  { title: "Net Cone Resistance [MPa]", units: 8, log: false, min: 0, max: 80, interval: 20, minor: 2 },
  { title: "Relative Density [%]", units: 6, log: false, min: 0, max: 120, interval: 40, minor: 2 },
  { title: "Undrained Shear Strength [kPa]", units: 8, log: false, min: 0, max: 800, interval: 200, minor: 2 },
  { title: "Soil Behaviour Type Index [-]", units: 3, log: false, min: 1, max: 4, interval: 1, minor: 0 },
  { title: "Normalized Cone Resistance [-]", units: 6, log: true, min: 1, max: 1000, interval: 0, minor: 0 },
  { title: "Normalized Friction Ratio [%]", units: 4, log: false, min: 0, max: 8, interval: 2, minor: 2 },
];

function buildOption() {
  const lefts: number[] = [];
  let x = LEFT0;
  panels.forEach((p) => {
    lefts.push(x);
    x += (p.units + 0.5) * U;
  });

  const grid = panels.map((p, i) => ({
    left: lefts[i],
    top: TOP,
    width: p.units * U,
    height: H,
    show: true,
    borderColor: "#000",
    borderWidth: 3.5,
    backgroundColor: "transparent",
    containLabel: false,
  }));

  const xAxis = panels.map((p, i) => {
    const ax: any = {
      gridIndex: i,
      position: "top",
      type: p.log ? "log" : "value",
      min: p.min,
      max: p.max,
      axisLine: { show: false },
      axisTick: { show: true, inside: false, length: 7, lineStyle: { color: "#000", width: 1 } },
      axisLabel: {
        fontSize: 22,
        color: "#000",
        margin: 13,
        fontFamily: FONT,
        formatter: (v: number) => String(Math.round(v * 1000) / 1000),
      },
      splitLine: { show: true, lineStyle: { color: "#000", width: 1 } },
    };
    if (p.log) {
      ax.logBase = 10;
    } else {
      ax.interval = p.interval;
      if (p.minor) {
        ax.minorTick = { show: false, splitNumber: p.minor };
        ax.minorSplitLine = { show: true, lineStyle: { color: "#000", width: 1 } };
      }
    }
    return ax;
  });

  const yAxis = panels.map((p, i) => ({
    gridIndex: i,
    type: "value",
    inverse: true,
    min: 0,
    max: 36,
    interval: 4,
    axisLine: { show: false },
    axisTick: { show: false },
    minorTick: { show: false, splitNumber: 2 },
    minorSplitLine: { show: true, lineStyle: { color: "#000", width: 1 } },
    splitLine: { show: true, lineStyle: { color: "#000", width: 1 } },
    axisLabel: {
      show: i === 0,
      fontSize: 22,
      color: "#000",
      margin: 16,
      fontFamily: FONT,
      verticalAlign: "bottom",
      formatter: (v: number) => (v === 0 ? "" : String(v)),
    },
  }));

  const series: any[] = [];
  const refLine = (i: number, vals: number[], style: any) => ({
    type: "line",
    xAxisIndex: i,
    yAxisIndex: i,
    data: [],
    z: 1,
    silent: true,
    markLine: {
      silent: true,
      symbol: ["none", "none"],
      label: { show: false },
      emphasis: { disabled: true },
      lineStyle: style,
      data: vals.map((v) => ({ xAxis: v })),
    },
  });
  series.push(refLine(1, densityClassLines, { color: "#c4c4c4", width: 3, type: "solid" }));
  series.push(refLine(3, icZoneLines, { color: "#333", width: 1.3, type: [8, 6] }));
  series.push(refLine(4, logMinorLines, { color: "#000", width: 1, type: "solid" }));

  panelTraces.forEach((traces, i) => {
    traces.forEach(([color, pts]) => {
      series.push({
        type: "line",
        xAxisIndex: i,
        yAxisIndex: i,
        data: pts,
        showSymbol: false,
        symbol: "none",
        silent: true,
        z: 3,
        clip: true,
        emphasis: { disabled: true },
        lineStyle: { color, width: 1.8 },
      });
    });
  });

  const graphic: any[] = panels.map((p, i) => ({
    type: "text",
    x: lefts[i] + (p.units * U) / 2,
    y: 25,
    silent: true,
    style: { text: p.title, fontSize: 22, fontFamily: FONT, fill: "#000", align: "center", verticalAlign: "middle" },
  }));
  graphic.push({
    type: "text",
    x: 27,
    y: TOP + H / 2,
    rotation: Math.PI / 2,
    silent: true,
    style: { text: "Depth Below Seafloor [m]", fontSize: 22, fontFamily: FONT, fill: "#000", align: "center", verticalAlign: "middle" },
  });
  graphic.push({
    type: "text",
    x: 36,
    y: 1421,
    rotation: Math.PI / 2,
    silent: true,
    style: { text: "4:30:55", fontSize: 15, fontFamily: FONT, fill: "#000", align: "center", verticalAlign: "middle" },
  });

  return {
    animation: false,
    backgroundColor: "#fff",
    textStyle: { fontFamily: FONT },
    grid,
    xAxis,
    yAxis,
    series,
    graphic,
  };
}

export default function App() {
  const ref = useRef<HTMLDivElement>(null);
  useEffect(() => {
    if (!ref.current) return;
    const chart = echarts.init(ref.current, null, { renderer: "svg" });
    chart.setOption(buildOption() as any);
    return () => chart.dispose();
  }, []);
  return (
    <div
      ref={ref}
      style={{ position: "fixed", left: 0, top: 0, width: 3008, height: 1451, background: "#fff" }}
    />
  );
}
